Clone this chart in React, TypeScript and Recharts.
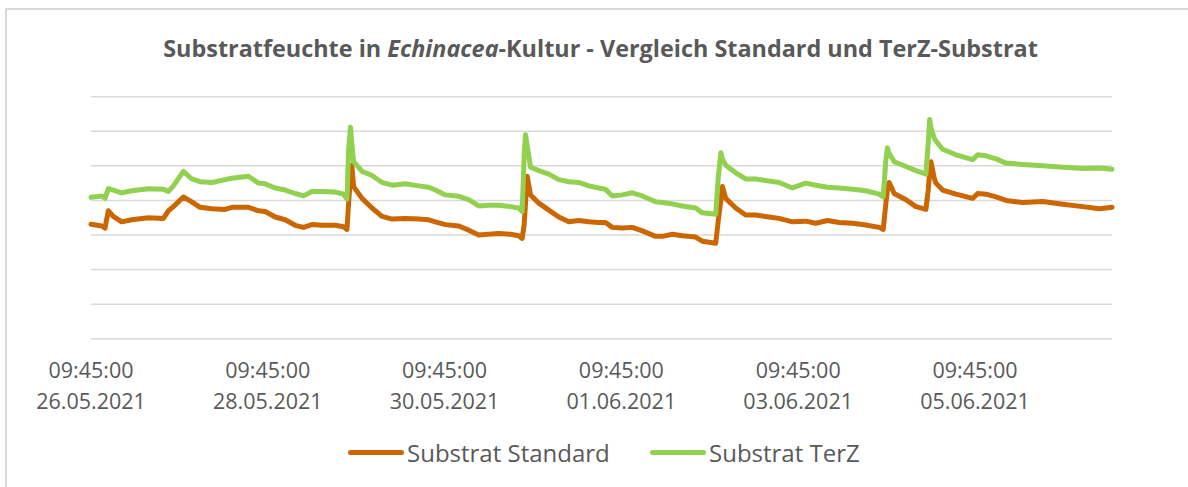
import React from "react";
import { LineChart, Line, XAxis, YAxis, CartesianGrid } from "recharts";

const days = [
  0.0, 0.121, 0.159, 0.196, 0.252, 0.347, 0.461, 0.649, 0.819, 0.876, 0.932, 1.045, 1.14, 1.234, 1.367, 1.517, 1.593, 1.781, 1.894,
  1.97, 2.084, 2.197, 2.31, 2.404, 2.499, 2.613, 2.763, 2.857, 2.896, 2.914, 2.935, 2.95, 2.971, 3.066, 3.179, 3.292, 3.405, 3.556, 3.707, 3.82,
  3.896, 4.009, 4.16, 4.273, 4.386, 4.5, 4.613, 4.745, 4.839, 4.878, 4.9, 4.915, 4.934, 4.972, 5.066, 5.179, 5.292, 5.405, 5.518, 5.632, 5.745,
  5.821, 5.897, 6.01, 6.123, 6.237, 6.387, 6.463, 6.576, 6.69, 6.84, 6.916, 7.067, 7.097, 7.125, 7.143, 7.18, 7.293, 7.406, 7.52, 7.67,
  7.784, 7.935, 8.086, 8.199, 8.332, 8.463, 8.615, 8.766, 8.916, 8.962, 8.992, 9.01, 9.029, 9.086, 9.219, 9.332, 9.445, 9.471, 9.487, 9.502, 9.539,
  9.558, 9.634, 9.785, 9.974, 10.031, 10.125, 10.238, 10.351, 10.54, 10.767, 10.993, 11.22, 11.408, 11.55,
];

const standard = [
  16.55, 16.3, 16.0, 18.5, 17.7, 16.9, 17.2, 17.5, 17.4, 18.5, 19.1, 20.5, 19.8, 19.0, 18.8, 18.7, 19.0, 19.0, 18.5,
  18.4, 17.6, 17.2, 16.4, 16.1, 16.5, 16.4, 16.4, 16.2, 15.8, 19.6, 23.5, 25.1, 22.0, 20.3, 18.9, 17.7, 17.3, 17.4, 17.3, 17.2,
  16.9, 16.5, 16.3, 15.7, 15.0, 15.1, 15.2, 15.1, 14.9, 14.5, 16.5, 19.5, 23.5, 20.8, 19.6, 18.6, 17.6, 16.9, 17.1, 16.9, 16.8,
  16.8, 16.1, 16.0, 16.1, 15.6, 14.8, 14.8, 15.1, 14.9, 14.7, 14.1, 13.8, 17.2, 20.0, 22.0, 20.3, 18.9, 17.9, 17.9, 17.6,
  17.4, 16.9, 17.0, 16.7, 17.1, 16.8, 16.7, 16.45, 16.1, 15.8, 19.6, 21.5, 22.6, 21.0, 20.1, 19.1, 18.7, 21.5, 24.0, 25.6, 23.2,
  22.5, 21.5, 20.9, 20.3, 21.0, 20.9, 20.5, 20.0, 19.7, 19.85, 19.45, 19.1, 18.8, 19.0,
];

const terz = [
  20.46, 20.65, 20.3, 21.7, 21.5, 21.1, 21.4, 21.7, 21.6, 21.3, 22.1, 24.2, 23.1, 22.7, 22.6, 23.0, 23.2, 23.5, 22.5,
  22.4, 21.8, 21.5, 21.0, 20.65, 21.3, 21.3, 21.2, 20.9, 20.2, 27.3, 30.6, 28.3, 25.6, 24.2, 23.6, 22.6, 22.2, 22.4, 22.1, 21.9,
  21.5, 20.8, 20.6, 20.1, 19.2, 19.3, 19.3, 19.1, 18.9, 18.4, 26.5, 29.5, 28.0, 24.8, 24.3, 23.8, 23.0, 22.7, 22.6, 22.1, 21.8,
  21.6, 20.65, 20.8, 21.1, 20.65, 19.8, 19.7, 19.5, 19.2, 18.9, 18.2, 18.0, 23.5, 26.9, 26.0, 25.1, 24.0, 23.1, 23.1, 22.8,
  22.6, 21.8, 22.5, 22.2, 21.9, 21.8, 21.6, 21.4, 20.9, 20.5, 25.9, 27.6, 26.8, 25.6, 24.9, 24.3, 23.8, 28.3, 31.7, 30.5, 29.0,
  28.6, 27.4, 26.6, 25.9, 26.6, 26.45, 26.0, 25.4, 25.2, 25.0, 24.8, 24.6, 24.7, 24.5,
];

const tickDays = [0, 2, 4, 6, 8, 10];
const tickTimes = ["09:45:00", "09:45:00", "09:45:00", "09:45:00", "09:45:00", "09:45:00"];
const tickDates = ["26.05.2021", "28.05.2021", "30.05.2021", "01.06.2021", "03.06.2021", "05.06.2021"];
const yTicks = [0, 5, 10, 15, 20, 25, 30, 35];

const seriesNames = ["Substrat Standard", "Substrat TerZ"];
const seriesColors = ["#CC6600", "#92D050"];

const data = days.map((d, i) => ({ d, standard: standard[i], terz: terz[i] }));

const FONT = "'Open Sans', Lato, sans-serif";
const TEXT = "#595959";

const Tick = (props: any) => {
  const { x, y, payload } = props;
  const idx = tickDays.indexOf(payload.value);
  return (
    <g>
      <text x={x} y={y + 39} textAnchor="middle" fontFamily={FONT} fontSize={21.5} fill={TEXT}>
        {tickTimes[idx]}
      </text>
      <text x={x} y={y + 70} textAnchor="middle" fontFamily={FONT} fontSize={21.5} fill={TEXT}>
        {tickDates[idx]}
      </text>
    </g>
  );
};

export default function App() {
  return (
    <div style={{ position: "absolute", left: 0, top: 0, width: 1188, height: 487, background: "#fff", overflow: "hidden" }}>
      <div
        style={{
          position: "absolute",
          left: 5,
          top: 8,
          width: 1300,
          height: 600,
          borderLeft: "2px solid #d9d9d9",
          borderTop: "2px solid #d9d9d9",
        }}
      />
      <div
        style={{
          position: "absolute",
          left: 0,
          top: 32,
          width: 1201,
          textAlign: "center",
          fontFamily: FONT,
          fontWeight: 700,
          fontSize: 23.4,
          color: TEXT,
          lineHeight: "32px",
          whiteSpace: "nowrap",
        }}
      >
        Substratfeuchte in <i>Echinacea</i>-Kultur - Vergleich Standard und TerZ-Substrat
      </div>
      <div style={{ position: "absolute", left: 0, top: 0 }}>
        <LineChart
          width={1188}
          height={487}
          data={data}
          margin={{ top: 96.7, right: 76, bottom: 118.3, left: 91 }}
        >
          <CartesianGrid horizontal={true} vertical={false} stroke="#d9d9d9" strokeWidth={1.5} />
          <XAxis
            dataKey="d"
            type="number"
            domain={[0, 11.55]}
            ticks={tickDays}
            interval={0}
            axisLine={false}
            tickLine={false}
            tickSize={0}
            tickMargin={0}
            height={30}
            tick={<Tick />}
          />
          <YAxis hide type="number" domain={[0, 35]} ticks={yTicks} width={0} />
          <Line
            type="linear"
            dataKey="standard"
            name={seriesNames[0]}
            stroke={seriesColors[0]}
            strokeWidth={5}
            dot={false}
            strokeLinejoin="round"
            strokeLinecap="round"
            isAnimationActive={false}
          />
          <Line
            type="linear"
            dataKey="terz"
            name={seriesNames[1]}
            stroke={seriesColors[1]}
            strokeWidth={5}
            dot={false}
            strokeLinejoin="round"
            strokeLinecap="round"
            isAnimationActive={false}
          />
        </LineChart>
      </div>
      {seriesNames.map((n, i) => (
        <div
          key={n}
          style={{
            position: "absolute",
            left: i === 0 ? 348 : 650,
            top: 436,
            height: 32,
            display: "flex",
            alignItems: "center",
            fontFamily: FONT,
            fontSize: 24,
            color: TEXT,
            whiteSpace: "nowrap",
          }}
        >
          <div style={{ width: 56, height: 5, borderRadius: 3, background: seriesColors[i] }} />
          <span style={{ marginLeft: 3 }}>{n}</span>
        </div>
      ))}
    </div>
  );
}
